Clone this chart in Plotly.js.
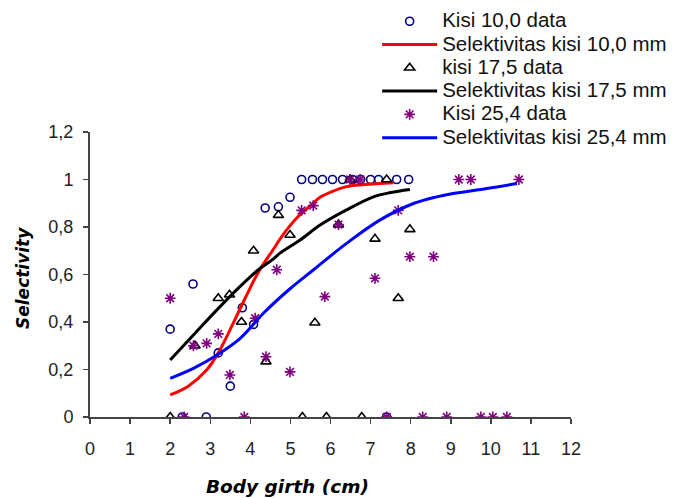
<!DOCTYPE html>
<html>
<head>
<meta charset="utf-8">
<script src="https://cdn.plot.ly/plotly-3.0.1.min.js"></script>
<style>html,body{margin:0;padding:0;background:#fff;}#chart{width:673px;height:498px;}</style>
</head>
<body>
<div id="chart"></div>
<script>
// Kisi 10,0 data (circles)
const k10x = [2.0, 2.3, 2.9, 2.57, 3.2, 3.5, 3.8, 4.08, 4.37, 4.7, 4.99, 5.28, 5.55, 5.8, 6.05, 6.3, 6.55, 6.75, 7.0, 7.2, 7.65, 7.95, 7.4];
const k10y = [0.37, 0, 0, 0.56, 0.27, 0.13, 0.46, 0.39, 0.88, 0.885, 0.925, 1.0, 1.0, 1.0, 1.0, 1.0, 1.0, 1.0, 1.0, 1.0, 1.0, 1.0, 0];
// Selektivitas kisi 10,0 mm (curve)
const s10x = [2.0, 2.45, 2.91, 3.2, 3.49, 3.87, 4.2, 4.55, 4.85, 5.17, 5.5, 5.74, 6.05, 6.4, 6.8, 7.24, 7.57];
const s10y = [0.093, 0.13, 0.198, 0.27, 0.366, 0.50, 0.61, 0.70, 0.775, 0.84, 0.89, 0.925, 0.95, 0.97, 0.978, 0.983, 0.986];
// kisi 17,5 data (triangles)
const k17x = [2.0, 2.62, 3.2, 3.48, 3.78, 4.08, 4.39, 4.7, 4.99, 5.3, 5.61, 5.9, 6.2, 6.49, 6.78, 7.11, 7.4, 7.69, 7.98];
const k17y = [0, 0.30, 0.50, 0.515, 0.40, 0.70, 0.233, 0.85, 0.766, 0, 0.397, 0, 0.81, 1.0, 0, 0.75, 1.0, 0.50, 0.79];
// Selektivitas kisi 17,5 mm (curve)
const s17x = [2.0, 2.58, 3.16, 3.74, 4.2, 4.57, 4.74, 5.24, 5.74, 6.4, 7.07, 7.5, 7.98];
const s17y = [0.24, 0.345, 0.45, 0.549, 0.62, 0.665, 0.69, 0.745, 0.808, 0.872, 0.927, 0.945, 0.958];
// Kisi 25,4 data (stars)
const k25x = [2.0, 2.35, 2.58, 2.91, 3.2, 3.49, 3.85, 4.12, 4.39, 4.66, 4.99, 5.28, 5.57, 5.86, 6.2, 6.49, 6.74, 7.11, 7.4, 7.69, 7.98, 8.3, 8.57, 8.9, 9.2, 9.5, 9.75, 10.05, 10.4, 10.7];
const k25y = [0.5, 0, 0.30, 0.31, 0.35, 0.177, 0, 0.416, 0.254, 0.62, 0.19, 0.87, 0.89, 0.507, 0.81, 1.0, 1.0, 0.584, 0, 0.87, 0.675, 0, 0.675, 0, 1.0, 1.0, 0, 0, 0, 1.0];
// Selektivitas kisi 25,4 mm (curve)
const s25x = [2.0, 2.58, 3.16, 3.74, 4.32, 4.99, 5.57, 6.4, 7.24, 8.07, 8.65, 9.06, 9.9, 10.65];
const s25y = [0.163, 0.205, 0.26, 0.33, 0.436, 0.54, 0.619, 0.731, 0.83, 0.899, 0.927, 0.941, 0.962, 0.983];

const seriesNames = ['Kisi 10,0 data', 'Selektivitas kisi 10,0 mm', 'kisi 17,5 data',
                     'Selektivitas kisi 17,5 mm', 'Kisi 25,4 data', 'Selektivitas kisi 25,4 mm'];

const xTickVals = [0,1,2,3,4,5,6,7,8,9,10,11,12];
const xTickText = ['0','1','2','3','4','5','6','7','8','9','10','11','12'];
const yTickVals = [0,0.2,0.4,0.6,0.8,1,1.2];
const yTickText = ['0','0,2','0,4','0,6','0,8','1','1,2'];

const big = s => '<span style="font-size:20.5px">' + s + '</span>';

const traces = [
  {x:k10x, y:k10y, mode:'markers', type:'scatter', name:big(seriesNames[0]),
   marker:{symbol:'circle-open', size:8, color:'#000080', line:{width:1.6, color:'#000080'}}},
  {x:s10x, y:s10y, mode:'lines', type:'scatter', name:big(seriesNames[1]),
   line:{color:'#ff0000', width:3, shape:'spline', smoothing:1}},
  {x:k17x, y:k17y, mode:'markers', type:'scatter', name:big(seriesNames[2]),
   marker:{symbol:'triangle-up-open', size:9, color:'#000000', line:{width:1.6, color:'#000000'}}},
  {x:s17x, y:s17y, mode:'lines', type:'scatter', name:big(seriesNames[3]),
   line:{color:'#000000', width:3, shape:'spline', smoothing:1}},
  {x:k25x, y:k25y, mode:'markers', type:'scatter', name:big(seriesNames[4]),
   marker:{symbol:'asterisk-open', size:9, color:'#800080', line:{width:1.6, color:'#800080'}}},
  {x:s25x, y:s25y, mode:'lines', type:'scatter', name:big(seriesNames[5]),
   line:{color:'#0000ff', width:3, shape:'spline', smoothing:1}}
];

const layout = {
  width:673, height:498,
  margin:{l:90, r:102, t:132, b:81, pad:0, autoexpand:false},
  paper_bgcolor:'#ffffff', plot_bgcolor:'#ffffff',
  font:{family:'Liberation Sans, Arial, sans-serif', size:14, color:'#222'},
  showlegend:true,
  legend:{x:0.597, y:1.447, xanchor:'left', yanchor:'top', bgcolor:'rgba(0,0,0,0)',
          font:{size:15.6, color:'#111'}, itemwidth:55, tracegroupgap:0},
  xaxis:{range:[0,12], tickvals:xTickVals, ticktext:xTickText, showgrid:false, zeroline:false,
         showline:true, linecolor:'#444', linewidth:2, ticks:'outside', ticklen:5, tickcolor:'#444', tickwidth:1.5,
         tickfont:{size:18, color:'#222'}, ticklabelstandoff:9, fixedrange:true},
  yaxis:{range:[0,1.2], tickvals:yTickVals, ticktext:yTickText, showgrid:false, zeroline:false,
         showline:true, linecolor:'#444', linewidth:2, ticks:'outside', ticklen:5, tickcolor:'#444', tickwidth:1.5,
         tickfont:{size:18, color:'#222'}, ticklabelstandoff:6, fixedrange:true},
  annotations:[
    {text:'<b><i>Body girth (cm)</i></b>', xref:'paper', yref:'paper', x:(287-90)/481, y:(417-487)/285,
     xanchor:'center', yanchor:'middle', showarrow:false,
     font:{family:'DejaVu Sans, sans-serif', size:18.5, color:'#000'}},
    {text:'<b><i>Selectivity</i></b>', xref:'paper', yref:'paper', x:(23-90)/481, y:(417-278)/285,
     xanchor:'center', yanchor:'middle', showarrow:false, textangle:-90,
     font:{family:'DejaVu Sans, sans-serif', size:17, color:'#000'}}
  ]
};

Plotly.newPlot('chart', traces, layout, {displayModeBar:false, staticPlot:true});
</script>
</body>
</html>
